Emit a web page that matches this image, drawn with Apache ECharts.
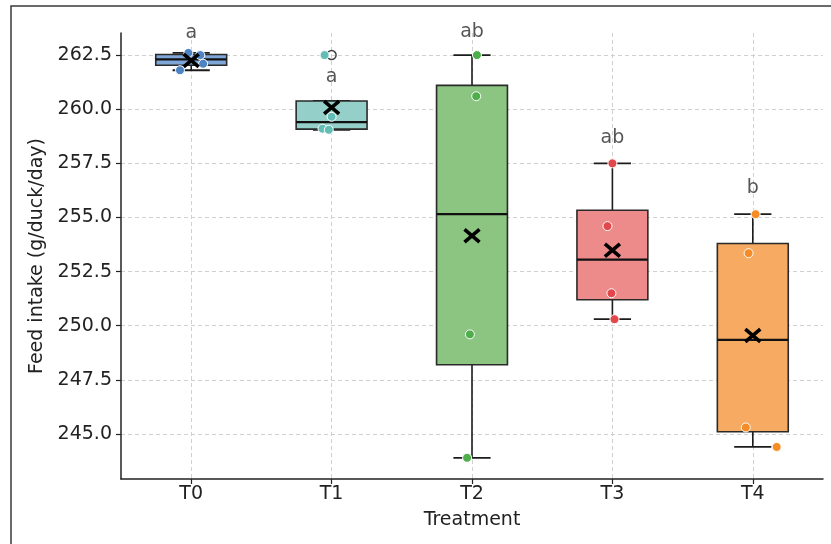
<!DOCTYPE html>
<html>
<head>
<meta charset="utf-8">
<script src="https://cdn.jsdelivr.net/npm/echarts@6/dist/echarts.min.js"></script>
<style>
html,body{margin:0;padding:0;background:#fff;}
#chart{width:831px;height:544px;}
</style>
</head>
<body>
<div id="chart"></div>
<script>
// ---- data ----
const categories = ['T0', 'T1', 'T2', 'T3', 'T4'];
const whiskerLow  = [261.80, 259.05, 243.90, 250.30, 244.40];
const quartile1   = [262.03, 259.08, 248.20, 251.20, 245.10];
const medians     = [262.30, 259.40, 255.15, 253.05, 249.35];
const quartile3   = [262.53, 260.38, 261.10, 255.33, 253.80];
const whiskerHigh = [262.60, 260.38, 262.50, 257.50, 255.15];
const means       = [262.25, 260.08, 254.15, 253.48, 249.55];
const outliers    = [[1, 262.5]];
const pointsT0 = [261.8, 262.1, 262.5, 262.6];
const pointsT1 = [262.5, 259.65, 259.1, 259.05];
const pointsT2 = [262.5, 260.6, 249.6, 243.9];
const pointsT3 = [257.5, 254.6, 251.5, 250.3];
const pointsT4 = [255.15, 253.35, 245.3, 244.4];
const jitterT0 = [-0.08, 0.085, 0.065, -0.02];
const jitterT1 = [-0.05, 0.0, -0.065, -0.02];
const jitterT2 = [0.035, 0.03, -0.015, -0.035];
const jitterT3 = [0.0, -0.035, -0.007, 0.015];
const jitterT4 = [0.02, -0.03, -0.05, 0.17];
const letters = ['a', 'a', 'ab', 'ab', 'b'];
const letterY = [263.5, 261.5, 263.55, 258.65, 256.35];
const yTickStep = 2.5;
const yMin = 242.92, yMax = 263.52;

// ---- styling ----
const boxColors   = ['#7ea7d7', '#94d0c9', '#8cc482', '#ec8b8a', '#f6aa62'];
const pointColors = ['#4f84c4', '#62bdb4', '#4fae4c', '#e2474b', '#f58c25'];
const FONT = 'DejaVu Sans';
const TXT = '#222222';
const FS = 19;

const pointGroups = [pointsT0, pointsT1, pointsT2, pointsT3, pointsT4];
const jitterGroups = [jitterT0, jitterT1, jitterT2, jitterT3, jitterT4];

const boxData = categories.map((c, i) => [i, whiskerLow[i], quartile1[i], medians[i], quartile3[i], whiskerHigh[i]]);
const pointData = [];
pointGroups.forEach((g, i) => g.forEach((v, k) => {
  pointData.push({ value: [i + jitterGroups[i][k], v], itemStyle: { color: pointColors[i] } });
}));

const chart = echarts.init(document.getElementById('chart'), null, { renderer: 'canvas' });

const gridLine = { type: [4, 3], color: '#cccccc', width: 0.9 };

chart.setOption({
  animation: false,
  backgroundColor: '#ffffff',
  grid: { left: 121, right: 8, top: 33, bottom: 65, containLabel: false },
  xAxis: [
    {
      type: 'category', data: categories, boundaryGap: true,
      axisLine: { show: true, onZero: false, lineStyle: { color: '#222', width: 1.5 } },
      axisTick: { show: true, alignWithLabel: true, length: 5, lineStyle: { color: '#222', width: 1.2 } },
      axisLabel: { fontFamily: FONT, fontSize: FS, color: TXT, margin: 6 },
      splitLine: { show: false },
      name: 'Treatment', nameLocation: 'middle', nameGap: 32,
      nameTextStyle: { fontFamily: FONT, fontSize: FS, color: TXT }
    },
    {
      type: 'value', min: -0.5, max: 4.5, minInterval: 1, maxInterval: 1,
      position: 'bottom',
      axisLine: { show: false, onZero: false }, axisTick: { show: false }, axisLabel: { show: false },
      splitLine: { show: true, showMinLine: false, showMaxLine: false, lineStyle: gridLine }
    }
  ],
  yAxis: {
    type: 'value', min: yMin, max: yMax, minInterval: yTickStep, maxInterval: yTickStep,
    position: 'left',
    axisLine: { show: true, onZero: false, lineStyle: { color: '#222', width: 1.5 } },
    axisTick: { show: true, length: 5, lineStyle: { color: '#222', width: 1.2 } },
    axisLabel: {
      showMinLabel: false, showMaxLabel: false,
      formatter: v => v.toFixed(1),
      fontFamily: FONT, fontSize: FS, color: TXT, margin: 9
    },
    splitLine: { show: true, showMinLine: false, showMaxLine: false, lineStyle: gridLine },
    name: 'Feed intake (g/duck/day)', nameLocation: 'middle', nameGap: 74,
    nameTextStyle: { fontFamily: FONT, fontSize: FS, color: TXT }
  },
  graphic: [{
    type: 'rect', z: 100, silent: true,
    shape: { x: 11, y: 6, width: 840, height: 560 },
    style: { fill: 'none', stroke: '#3a3a3a', lineWidth: 1.5 }
  }],
  series: [
    {
      type: 'custom', name: 'box', xAxisIndex: 1, yAxisIndex: 0, z: 2, clip: false,
      data: boxData,
      encode: { x: 0, y: [1, 2, 3, 4, 5] },
      renderItem: function (params, api) {
        const i = api.value(0);
        const pL = api.coord([i, api.value(1)]);
        const pQ1 = api.coord([i, api.value(2)]);
        const pM = api.coord([i, api.value(3)]);
        const pQ3 = api.coord([i, api.value(4)]);
        const pH = api.coord([i, api.value(5)]);
        const bw = api.size([0.505, 0])[0];
        const cw = api.size([0.265, 0])[0];
        const cx = pM[0];
        const ls = { stroke: '#1c1c1c', lineWidth: 1.6 };
        return {
          type: 'group',
          children: [
            { type: 'line', shape: { x1: cx, y1: pH[1], x2: cx, y2: pQ3[1] }, style: ls },
            { type: 'line', shape: { x1: cx, y1: pQ1[1], x2: cx, y2: pL[1] }, style: ls },
            { type: 'line', shape: { x1: cx - cw / 2, y1: pH[1], x2: cx + cw / 2, y2: pH[1] }, style: { stroke: '#1c1c1c', lineWidth: 1.8 } },
            { type: 'line', shape: { x1: cx - cw / 2, y1: pL[1], x2: cx + cw / 2, y2: pL[1] }, style: { stroke: '#1c1c1c', lineWidth: 1.8 } },
            { type: 'rect', shape: { x: cx - bw / 2, y: pQ3[1], width: bw, height: pQ1[1] - pQ3[1] },
              style: { fill: boxColors[params.dataIndex], stroke: '#2a2a2a', lineWidth: 1.6, opacity: 1 } },
            { type: 'line', shape: { x1: cx - bw / 2, y1: pM[1], x2: cx + bw / 2, y2: pM[1] }, style: { stroke: '#111', lineWidth: 2.2 } }
          ]
        };
      }
    },
    {
      type: 'scatter', name: 'outliers', xAxisIndex: 1, yAxisIndex: 0, z: 3, clip: false,
      data: outliers, symbol: 'circle', symbolSize: 9,
      itemStyle: { color: 'rgba(0,0,0,0)', borderColor: '#111', borderWidth: 1.5 }
    },
    {
      type: 'scatter', name: 'points', xAxisIndex: 1, yAxisIndex: 0, z: 4, clip: false,
      data: pointData, symbol: 'circle', symbolSize: 9,
      itemStyle: { borderColor: '#ffffff', borderWidth: 1, opacity: 1 }
    },
    {
      type: 'custom', name: 'mean', xAxisIndex: 1, yAxisIndex: 0, z: 5, clip: false,
      data: means.map((m, i) => [i, m]),
      encode: { x: 0, y: 1 },
      renderItem: function (params, api) {
        const p = api.coord([api.value(0), api.value(1)]);
        const s = 7.5;
        const st = { stroke: '#000', lineWidth: 3.6 };
        return {
          type: 'group',
          children: [
            { type: 'line', shape: { x1: p[0] - s, y1: p[1] - s * 0.85, x2: p[0] + s, y2: p[1] + s * 0.85 }, style: st },
            { type: 'line', shape: { x1: p[0] - s, y1: p[1] + s * 0.85, x2: p[0] + s, y2: p[1] - s * 0.85 }, style: st }
          ]
        };
      }
    },
    {
      type: 'scatter', name: 'letters', xAxisIndex: 1, yAxisIndex: 0, z: 6, clip: false,
      data: letterY.map((y, i) => [i, y]), symbolSize: 1,
      itemStyle: { color: 'rgba(0,0,0,0)' },
      label: {
        show: true, position: 'inside', formatter: p => letters[p.dataIndex],
        fontFamily: FONT, fontSize: FS, color: '#2a2a2a'
      }
    }
  ]
});
</script>
</body>
</html>
